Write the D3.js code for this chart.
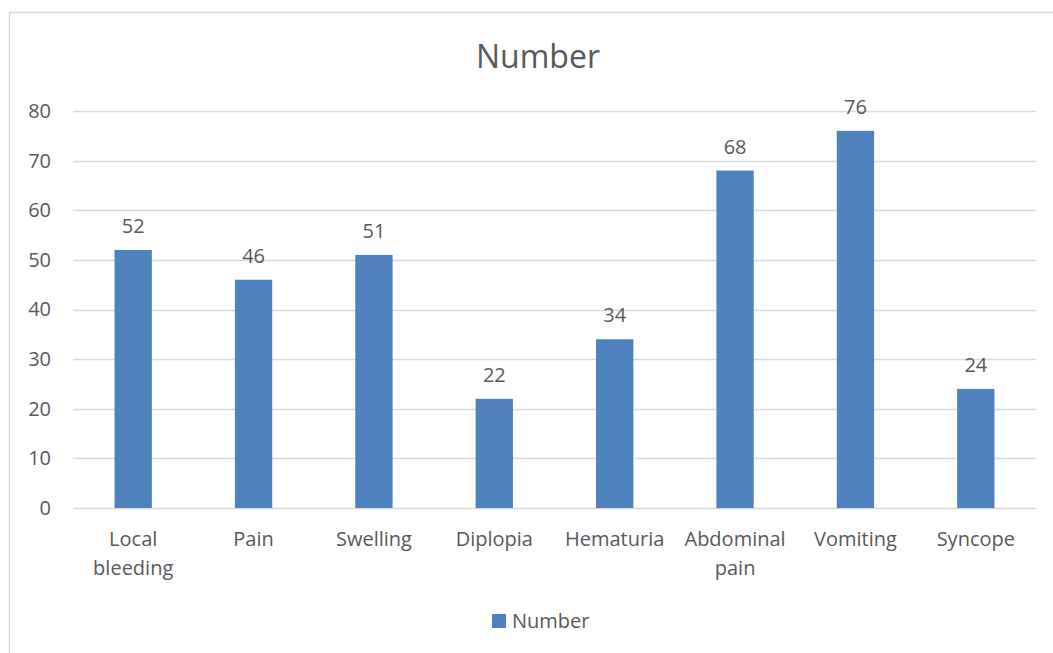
<!DOCTYPE html>
<html><head><meta charset="utf-8">
<script src="https://cdn.jsdelivr.net/npm/d3@7"></script>
<style>body{margin:0;background:#fff}svg{display:block}text{font-family:"Open Sans",sans-serif;fill:#595959}</style>
</head><body>
<svg id="c" width="1053" height="653"></svg>
<script>
const categories = [["Local","bleeding"],["Pain"],["Swelling"],["Diplopia"],["Hematuria"],["Abdominal","pain"],["Vomiting"],["Syncope"]];
const values = [52,46,51,22,34,68,76,24];
const yTicks = [0,10,20,30,40,50,60,70,80];
const seriesName = "Number";
const titleText = "Number";

const svg = d3.select("#c");
svg.append("rect").attr("x",9.5).attr("y",12.5).attr("width",1060).attr("height",700)
  .attr("fill","#fff").attr("stroke","#d9d9d9").attr("stroke-width",1.5);

const m={left:73,right:1036,top:111,bottom:508};
const names = categories.map(c=>c.join(" "));
const x=d3.scaleBand().domain(names).range([m.left,m.right]).paddingInner(0.69).paddingOuter(0.345);
const y=d3.scaleLinear().domain([0,80]).range([m.bottom,m.top]);

svg.append("g").selectAll("line").data(yTicks).join("line")
  .attr("x1",m.left).attr("x2",m.right).attr("y1",d=>Math.round(y(d))+0.5).attr("y2",d=>Math.round(y(d))+0.5)
  .attr("stroke","#d9d9d9").attr("stroke-width",1.3);

const ya=svg.append("g").attr("transform",`translate(${m.left},0)`)
  .call(d3.axisLeft(y).tickValues(yTicks).tickSize(0).tickPadding(22));
ya.select(".domain").remove();
ya.selectAll("text").attr("font-size",20).attr("font-family","'Open Sans',sans-serif").attr("fill","#595959");

svg.append("g").selectAll("rect").data(values).join("rect")
  .attr("x",(d,i)=>x(names[i])).attr("width",x.bandwidth())
  .attr("y",d=>y(d)).attr("height",d=>y(0)-y(d)).attr("fill","#4f81bd");

svg.append("g").selectAll("text").data(values).join("text")
  .attr("x",(d,i)=>x(names[i])+x.bandwidth()/2).attr("y",d=>y(d)-17)
  .attr("text-anchor","middle").attr("font-size",20).text(d=>d);

const xl=svg.append("g").selectAll("text").data(categories).join("text")
  .attr("text-anchor","middle").attr("font-size",20)
  .attr("transform",(d,i)=>`translate(${x(names[i])+x.bandwidth()/2},546)`);
xl.selectAll("tspan").data(d=>d).join("tspan").attr("x",0).attr("dy",(d,j)=>j?29:0).text(d=>d);

svg.append("text").attr("x",538).attr("y",68).attr("text-anchor","middle").attr("font-size",32).text(titleText);

svg.append("rect").attr("x",492).attr("y",614).attr("width",14).attr("height",14).attr("fill","#4f81bd");
svg.append("text").attr("x",512).attr("y",628).attr("font-size",20).text(seriesName);
</script>
</body></html>
